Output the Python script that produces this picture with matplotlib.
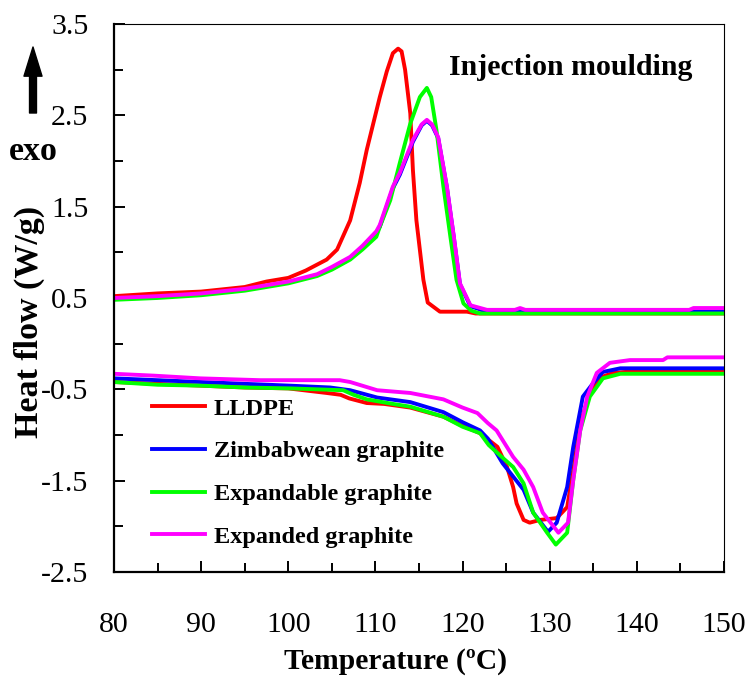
import numpy as np
import matplotlib
matplotlib.use('Agg')
from matplotlib import pyplot as plt
from matplotlib.ticker import MultipleLocator

plt.rcParams['font.family'] = ['Liberation Serif', 'DejaVu Serif']
plt.rcParams['axes.unicode_minus'] = False

# crystallisation (cooling) curves, upper set
t_lldpe_c = [80, 85, 90, 95, 97.5, 100, 102, 104.4, 105.6, 107.1, 108.2, 109, 110.5, 111.3, 112, 112.6,
             113, 113.4, 114, 114.3, 114.7, 115.5, 116, 117.4, 120.5, 121.5, 150]
v_lldpe_c = [0.52, 0.55, 0.57, 0.62, 0.68, 0.72, 0.80, 0.92, 1.03, 1.35, 1.76, 2.12, 2.70, 2.98, 3.18, 3.23,
             3.20, 3.00, 2.52, 1.90, 1.35, 0.70, 0.45, 0.35, 0.35, 0.33, 0.33]

t_zim_c = [80, 85, 90, 95, 97.5, 100, 103.3, 105, 107.1, 108.5, 110.1, 110.5, 112, 112.8, 114.3, 115.3,
           115.9, 116.5, 117.2, 118.2, 119, 119.7, 120.9, 122.8, 150]
v_zim_c = [0.49, 0.51, 0.54, 0.59, 0.63, 0.67, 0.75, 0.82, 0.93, 1.05, 1.21, 1.28, 1.70, 1.85, 2.21, 2.39,
           2.44, 2.39, 2.25, 1.71, 1.16, 0.65, 0.41, 0.35, 0.35]

t_exp_c = [80, 85, 90, 95, 97.5, 100, 103.3, 105, 107.1, 108.5, 110.1, 110.5, 111.7, 112.8, 114, 115.1,
           115.9, 116.4, 117, 117.8, 118.6, 119.3, 120.1, 121, 122, 150]
v_exp_c = [0.48, 0.50, 0.53, 0.58, 0.62, 0.66, 0.74, 0.81, 0.92, 1.03, 1.17, 1.28, 1.57, 1.98, 2.41, 2.70,
           2.80, 2.70, 2.34, 1.72, 1.17, 0.70, 0.44, 0.36, 0.33, 0.33]

t_eg_c = [80, 85, 90, 95, 97.5, 100, 103.3, 105, 107.1, 108.5, 110.1, 110.5, 112, 112.8, 114.3, 115.3,
          115.9, 116.5, 117.2, 118.2, 119, 119.7, 120.9, 122.8, 126, 126.6, 127.2, 146, 146.5, 150]
v_eg_c = [0.50, 0.52, 0.55, 0.60, 0.64, 0.68, 0.76, 0.84, 0.95, 1.07, 1.23, 1.30, 1.72, 1.87, 2.23, 2.40,
          2.45, 2.40, 2.26, 1.72, 1.17, 0.66, 0.42, 0.37, 0.37, 0.39, 0.37, 0.37, 0.39, 0.39]

# melting (heating) curves, lower set
t_lldpe_m = [80, 85, 90, 95, 100, 104.4, 106, 107, 109, 111, 114, 117.8, 120, 122, 124, 125.1, 125.8,
             126.2, 127, 127.7, 128.9, 130.8, 132, 132.7, 133.5, 134.6, 135.8, 137.3, 140, 150]
v_lldpe_m = [-0.42, -0.44, -0.46, -0.48, -0.49, -0.54, -0.56, -0.60, -0.65, -0.66, -0.70, -0.80, -0.90,
             -0.98, -1.13, -1.35, -1.57, -1.75, -1.93, -1.96, -1.93, -1.91, -1.79, -1.38, -0.87, -0.54,
             -0.37, -0.32, -0.30, -0.30]

t_zim_m = [80, 85, 90, 95, 100.2, 104.8, 107.1, 110.2, 114, 117.8, 120, 122, 122.9, 124.6, 127, 128.1,
           129.8, 130.8, 132, 132.7, 133.8, 135, 136.1, 138.1, 150]
v_zim_m = [-0.38, -0.40, -0.42, -0.44, -0.46, -0.48, -0.51, -0.59, -0.64, -0.75, -0.86, -0.95, -1.04,
           -1.31, -1.60, -1.85, -2.06, -1.96, -1.57, -1.13, -0.58, -0.43, -0.31, -0.27, -0.27]

t_exp_m = [80, 85, 90, 95, 100.2, 106.3, 107.5, 109, 112, 114, 117.8, 120, 122, 123, 124.6, 125.8, 127,
           128.1, 129.7, 130.7, 132, 132.7, 133.5, 134.6, 136.1, 138.1, 150]
v_exp_m = [-0.42, -0.45, -0.46, -0.48, -0.49, -0.51, -0.56, -0.61, -0.66, -0.69, -0.80, -0.91, -0.98,
           -1.11, -1.25, -1.35, -1.53, -1.85, -2.07, -2.20, -2.07, -1.49, -0.95, -0.58, -0.38, -0.33, -0.33]

t_eg_m = [80, 84.5, 89.9, 96.8, 105.9, 107.1, 110.2, 114, 117.8, 120, 121.7, 122.9, 123.9, 125.8, 127,
          128.1, 129.2, 131, 132.1, 132.7, 133.5, 134.3, 135.4, 136.9, 139.2, 143, 143.5, 150]
v_eg_m = [-0.33, -0.35, -0.38, -0.40, -0.40, -0.42, -0.51, -0.54, -0.61, -0.70, -0.76, -0.87, -0.95,
          -1.24, -1.38, -1.57, -1.85, -2.07, -1.96, -1.49, -0.95, -0.58, -0.32, -0.21, -0.18, -0.18,
          -0.15, -0.15]

names = ['LLDPE', 'Zimbabwean graphite', 'Expandable graphite', 'Expanded graphite']
colors = ['#ff0000', '#0000ff', '#00ff00', '#ff00ff']
cooling = [(t_lldpe_c, v_lldpe_c), (t_zim_c, v_zim_c), (t_exp_c, v_exp_c), (t_eg_c, v_eg_c)]
melting = [(t_lldpe_m, v_lldpe_m), (t_zim_m, v_zim_m), (t_exp_m, v_exp_m), (t_eg_m, v_eg_m)]

fig = plt.figure(figsize=(7.52, 6.79), dpi=100)
ax = fig.add_axes([0.1516, 0.1576, 0.8112, 0.8071])

lw = 2.8
handles = []
for (tc, vc), (tm, vm), name, c in zip(cooling, melting, names, colors):
    ax.plot(tc, vc, color=c, linewidth=lw)
    h, = ax.plot(tm, vm, color=c, linewidth=lw, label=name)
    handles.append(h)

ax.set_xlim(80, 150)
ax.set_ylim(-2.5, 3.5)
ax.xaxis.set_major_locator(MultipleLocator(10))
ax.xaxis.set_minor_locator(MultipleLocator(5))
ax.yaxis.set_minor_locator(MultipleLocator(0.5))
ax.set_yticks(np.arange(-2.5, 3.6, 1.0))

ax.tick_params(which='both', direction='in', width=1.4, labelsize=21.5)
ax.tick_params(which='major', length=8)
ax.tick_params(which='minor', length=6.5)
ax.tick_params(axis='x', which='both', pad=29)
ax.tick_params(axis='y', which='both', pad=18.5)

for s in ['left', 'bottom']:
    ax.spines[s].set_linewidth(1.6)
for s in ['top', 'right']:
    ax.spines[s].set_linewidth(0.8)

ax.set_xlabel('Temperature (ºC)', fontsize=21.3, fontweight='bold')
ax.xaxis.set_label_coords(0.461, -0.138)
ax.set_ylabel('Heat flow (W/g)', fontsize=24.5, fontweight='bold')
ax.yaxis.set_label_coords(-0.113, 0.456)

ax.text(0.749, 0.921, 'Injection moulding', transform=ax.transAxes, fontsize=21.5,
        fontweight='bold', ha='center', va='center')

ax.annotate('', xy=(33 / 752, 1 - 47 / 679), xytext=(33 / 752, 1 - 113 / 679),
            xycoords='figure fraction', textcoords='figure fraction',
            arrowprops=dict(facecolor='black', edgecolor='black', width=5, headwidth=13, headlength=21))
fig.text(33 / 752, 1 - 152 / 679, 'exo', fontsize=24.5, fontweight='bold', ha='center', va='center')

leg = ax.legend(handles=handles, loc='upper left', bbox_to_anchor=(0.062, 0.318), frameon=False,
                prop={'size': 17.5, 'weight': 'bold'}, handlelength=2.2, handletextpad=0.35,
                labelspacing=0.85, borderpad=0, borderaxespad=0)

plt.savefig('out.png', dpi=100)
plt.close()
